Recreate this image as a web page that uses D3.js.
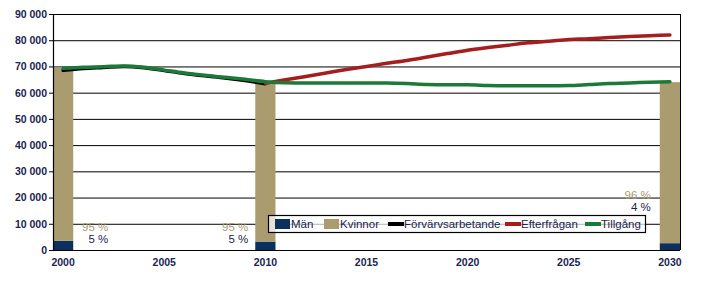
<!DOCTYPE html>
<html>
<head>
<meta charset="utf-8">
<script src="https://cdn.jsdelivr.net/npm/d3@7"></script>
<style>
  body { margin: 0; background: #fff; }
  svg { display: block; font-family: "Liberation Sans", Arial, sans-serif; }
</style>
</head>
<body>
<svg width="709" height="282"></svg>
<script>
// data
var years = d3.range(2000, 2031);
var yTicks = [0, 10000, 20000, 30000, 40000, 50000, 60000, 70000, 80000, 90000];
var xTicks = [2000, 2005, 2010, 2015, 2020, 2025, 2030];

var barYears = [2000, 2010, 2030];
var man = [3500, 3200, 2600];
var kvinnor = [66000, 60300, 61400];

var forvYears = d3.range(2000, 2011);
var forvarvsarbetande = [68500, 69200, 69600, 70000, 69500, 68400, 67300, 66400, 65600, 64600, 63400];

var efterYears = d3.range(2010, 2031);
var efterfragan = [63600, 64900, 66200, 67500, 68800, 70000, 71200, 72300, 73600, 74900, 76200,
                   77200, 78100, 79000, 79600, 80300, 80600, 81000, 81400, 81700, 82000];

var tillYears = d3.range(2000, 2031);
var tillgang = [69300, 69700, 69900, 70200, 69700, 68600, 67500, 66600, 65900, 65100, 64200,
                63800, 63700, 63700, 63700, 63700, 63700, 63500, 63100, 63000, 63000,
                62700, 62600, 62600, 62600, 62700, 63100, 63500, 63700, 64000, 64200];

var colors = { man: "#0b2f5e", kvinnor: "#ab9c6f", forv: "#000000", efter: "#a51d1d", till: "#1b7a37" };
var textColor = "#1b2550";

var svg = d3.select("svg"),
    margin = { top: 14, right: 29, bottom: 32, left: 53 },
    width = +svg.attr("width") - margin.left - margin.right,
    height = +svg.attr("height") - margin.top - margin.bottom;

var g = svg.append("g").attr("transform", "translate(" + margin.left + "," + margin.top + ")");

var x = d3.scaleBand().domain(years).range([0, width]).padding(0);
var y = d3.scaleLinear().domain([0, 90000]).range([height, 0]);
var cx = function (yr) { return x(yr) + x.bandwidth() / 2; };

// gridlines
g.append("g").selectAll("line").data(yTicks).enter().append("line")
    .attr("x1", 0).attr("x2", width)
    .attr("y1", function (d) { return y(d) + 0.5; })
    .attr("y2", function (d) { return y(d) + 0.5; })
    .attr("stroke", "#000").attr("stroke-width", 1);

// right border
g.append("line").attr("x1", width + 0.5).attr("x2", width + 0.5).attr("y1", y(90000)).attr("y2", height)
    .attr("stroke", "#000");

// bars (stacked)
var bars = g.append("g");
barYears.forEach(function (yr, i) {
    bars.append("rect").attr("x", x(yr)).attr("width", x.bandwidth())
        .attr("y", y(man[i])).attr("height", height - y(man[i]))
        .attr("fill", colors.man);
    bars.append("rect").attr("x", x(yr)).attr("width", x.bandwidth())
        .attr("y", y(man[i] + kvinnor[i])).attr("height", y(man[i]) - y(man[i] + kvinnor[i]))
        .attr("fill", colors.kvinnor);
});

// lines
function drawLine(xs, vals, color) {
    var line = d3.line()
        .x(function (d, i) { return cx(xs[i]); })
        .y(function (d) { return y(d); })
        .curve(d3.curveMonotoneX);
    g.append("path").datum(vals).attr("d", line)
        .attr("fill", "none").attr("stroke", color).attr("stroke-width", 3.5)
        .attr("stroke-linecap", "round");
}
drawLine(forvYears, forvarvsarbetande, colors.forv);
drawLine(efterYears, efterfragan, colors.efter);
drawLine(tillYears, tillgang, colors.till);

// axes
var yAxis = g.append("g")
    .call(d3.axisLeft(y).tickValues(yTicks).tickSize(4).tickPadding(2)
        .tickFormat(function (d) { return d3.format(",")(d).replace(/,/g, " "); }));
yAxis.select(".domain").attr("stroke", "#000").attr("stroke-width", 1.2);
yAxis.selectAll("text").attr("font-size", 10.5).attr("font-weight", "bold").attr("fill", textColor);

var xAxis = g.append("g").attr("transform", "translate(0," + height + ")")
    .call(d3.axisBottom(x).tickValues(xTicks).tickSize(0).tickPadding(9));
xAxis.select(".domain").remove();
xAxis.selectAll("text").attr("font-size", 10.5).attr("font-weight", "bold").attr("fill", textColor);

// bottom axis line
g.append("line").attr("x1", 0).attr("x2", width).attr("y1", height + 0.5).attr("y2", height + 0.5)
    .attr("stroke", "#000").attr("stroke-width", 1.2);

// percentage labels
var labelPos = [
    { dx: x.bandwidth() + 35, anchor: "end", dy: 0 },
    { dx: -7, anchor: "end", dy: 0 },
    { dx: -9, anchor: "end", dy: -32 }
];
barYears.forEach(function (yr, i) {
    var tot = man[i] + kvinnor[i];
    var pk = Math.round(kvinnor[i] / tot * 100), pm = 100 - pk;
    var p = labelPos[i];
    g.append("text").attr("x", x(yr) + p.dx).attr("y", 217 + p.dy)
        .attr("text-anchor", p.anchor).attr("font-size", 11.5).attr("fill", colors.kvinnor)
        .text(pk + " %");
    g.append("text").attr("x", x(yr) + p.dx).attr("y", 229 + p.dy)
        .attr("text-anchor", p.anchor).attr("font-size", 11.5).attr("fill", textColor)
        .text(pm + " %");
});

// legend
var legend = svg.append("g").attr("transform", "translate(268,215)");
legend.append("rect").attr("x", 0.5).attr("y", 0.5).attr("width", 377).attr("height", 17)
    .attr("fill", "#fff").attr("fill-opacity", 0.7).attr("stroke", "#000").attr("stroke-width", 1.2);
var items = [
    { name: "Män", color: colors.man, type: "rect", x: 7 },
    { name: "Kvinnor", color: colors.kvinnor, type: "rect", x: 56 },
    { name: "Förvärvsarbetande", color: colors.forv, type: "line", x: 120 },
    { name: "Efterfrågan", color: colors.efter, type: "line", x: 237 },
    { name: "Tillgång", color: colors.till, type: "line", x: 317 }
];
items.forEach(function (it) {
    if (it.type === "rect") {
        legend.append("rect").attr("x", it.x).attr("y", 4).attr("width", 15).attr("height", 10).attr("fill", it.color);
    } else {
        legend.append("line").attr("x1", it.x).attr("x2", it.x + 16).attr("y1", 9).attr("y2", 9)
            .attr("stroke", it.color).attr("stroke-width", 4);
    }
    legend.append("text").attr("x", it.x + 16).attr("y", 13)
        .attr("font-size", 11.5).attr("fill", textColor).text(it.name);
});
</script>
</body>
</html>
